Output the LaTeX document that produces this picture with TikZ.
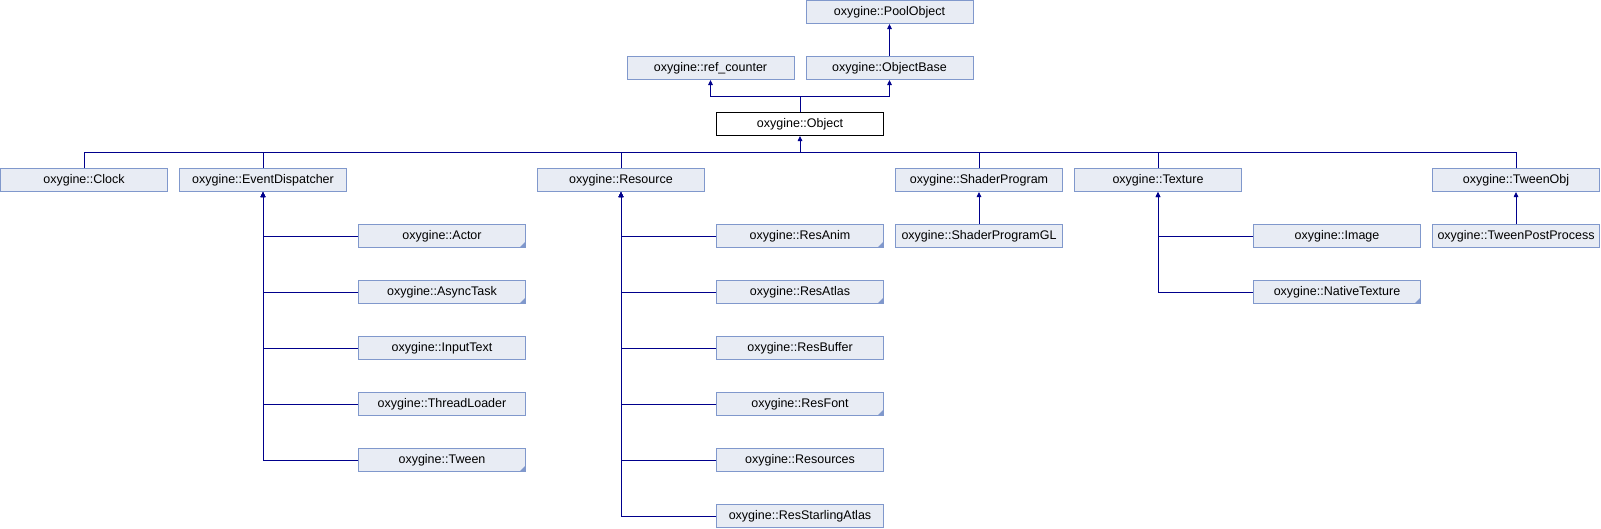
\documentclass[tikz,border=0pt]{standalone}
\usepackage{fontspec}
\setmainfont{Liberation Sans}
\usetikzlibrary{arrows.meta}
\definecolor{boxfill}{RGB}{232,236,244}
\definecolor{boxline}{RGB}{128,152,204}
\definecolor{linkcol}{RGB}{0,0,140}
\tikzset{
  cls/.style={rectangle, draw=boxline, fill=boxfill, line width=1pt, minimum width=167pt, minimum height=23pt, inner sep=0pt, font=\fontsize{12.5}{14}\selectfont},
  clsmore/.style={cls, path picture={\fill[boxline] (path picture bounding box.south east) -- ++(-6,0) -- ++(6,-6) -- cycle;}},
  link/.style={draw=linkcol, line width=0.9pt},
  inh/.style={link, -{Triangle[width=4.5pt,length=5pt]}}
}
\begin{document}
\begin{tikzpicture}[x=1pt, y=-1pt] %Eixo y para baixo, 1pt = 1px
	\useasboundingbox (0,0) rectangle (1601,528);
		%Topo da hierarquia
	\node[cls] (PoolObject) at (889.5,12) {oxygine::PoolObject};
	\node[cls] (refcounter) at (710.5,68) {oxygine::ref\_counter};
	\node[cls] (ObjectBase) at (889.5,68) {oxygine::ObjectBase};
	\node[cls, draw=black, fill=white] (Object) at (800,124) {oxygine::Object};
		%Classes derivadas de Object
	\node[cls] (Clock) at (84,180) {oxygine::Clock};
	\node[cls] (EventDispatcher) at (263,180) {oxygine::EventDispatcher};
	\node[cls] (Resource) at (621,180) {oxygine::Resource};
	\node[cls] (ShaderProgram) at (979,180) {oxygine::ShaderProgram};
	\node[cls] (Texture) at (1158,180) {oxygine::Texture};
	\node[cls] (TweenObj) at (1516,180) {oxygine::TweenObj};
		%Derivadas de EventDispatcher
	\node[clsmore] (Actor) at (442,236) {oxygine::Actor};
	\node[clsmore] (AsyncTask) at (442,292) {oxygine::AsyncTask};
	\node[cls] (InputText) at (442,348) {oxygine::InputText};
	\node[cls] (ThreadLoader) at (442,404) {oxygine::ThreadLoader};
	\node[clsmore] (Tween) at (442,460) {oxygine::Tween};
		%Derivadas de Resource
	\node[clsmore] (ResAnim) at (800,236) {oxygine::ResAnim};
	\node[clsmore] (ResAtlas) at (800,292) {oxygine::ResAtlas};
	\node[cls] (ResBuffer) at (800,348) {oxygine::ResBuffer};
	\node[clsmore] (ResFont) at (800,404) {oxygine::ResFont};
	\node[cls] (Resources) at (800,460) {oxygine::Resources};
	\node[cls] (ResStarlingAtlas) at (800,516) {oxygine::ResStarlingAtlas};
		%Demais derivadas
	\node[cls] (ShaderProgramGL) at (979,236) {oxygine::ShaderProgramGL};
	\node[cls] (Image) at (1337,236) {oxygine::Image};
	\node[clsmore] (NativeTexture) at (1337,292) {oxygine::NativeTexture};
	\node[cls] (TweenPostProcess) at (1516,236) {oxygine::TweenPostProcess};
		%Ligações do topo
	\coordinate (basebus) at (800,96.5); %Barramento acima de Object
	\draw[inh] (ObjectBase.north) -- (PoolObject.south);
	\draw[link] (Object.north) -- (basebus);
	\draw[inh] (basebus) -| (refcounter.south);
	\draw[inh] (basebus) -| (ObjectBase.south);
		%Barramento abaixo de Object
	\coordinate (objbus) at (800,152);
	\draw[inh] (objbus) -- (Object.south);
	\draw[link] (Clock.north) |- (objbus);
	\draw[link] (EventDispatcher.north) |- (objbus);
	\draw[link] (Resource.north) |- (objbus);
	\draw[link] (ShaderProgram.north) |- (objbus);
	\draw[link] (Texture.north) |- (objbus);
	\draw[link] (TweenObj.north) |- (objbus);
		%Ligações laterais
	\draw[inh] (Actor.west) -| (EventDispatcher.south);
	\draw[inh] (AsyncTask.west) -| (EventDispatcher.south);
	\draw[inh] (InputText.west) -| (EventDispatcher.south);
	\draw[inh] (ThreadLoader.west) -| (EventDispatcher.south);
	\draw[inh] (Tween.west) -| (EventDispatcher.south);
	\draw[inh] (ResAnim.west) -| (Resource.south);
	\draw[inh] (ResAtlas.west) -| (Resource.south);
	\draw[inh] (ResBuffer.west) -| (Resource.south);
	\draw[inh] (ResFont.west) -| (Resource.south);
	\draw[inh] (Resources.west) -| (Resource.south);
	\draw[inh] (ResStarlingAtlas.west) -| (Resource.south);
	\draw[inh] (Image.west) -| (Texture.south);
	\draw[inh] (NativeTexture.west) -| (Texture.south);
	\draw[inh] (ShaderProgramGL.north) -- (ShaderProgram.south);
	\draw[inh] (TweenPostProcess.north) -- (TweenObj.south);
\end{tikzpicture}
\end{document}
